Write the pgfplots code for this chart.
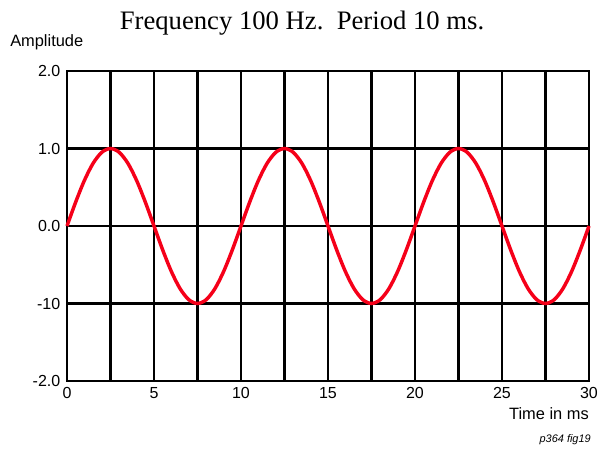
\documentclass[border=0pt]{standalone}
\usepackage{pgfplots}
\pgfplotsset{compat=1.18}
\usepackage{fontspec}
\setmainfont{Liberation Sans}
\newfontfamily\titlefont{Liberation Serif}
\definecolor{wave}{RGB}{245,0,25}
\begin{document}
\begin{tikzpicture}[x=0.75pt,y=0.75pt]
\useasboundingbox (0,0) rectangle (600,450);
\begin{axis}[
  at={(67*0.75pt,69*0.75pt)}, anchor=south west,
  scale only axis, width=522*0.75pt, height=310*0.75pt,
  xmin=0, xmax=30, ymin=-2, ymax=2,
  xtick={0,5,...,30}, minor xtick={2.5,7.5,...,27.5},
  ytick={-2,-1,0,1,2}, yticklabels={-2.0,-10,0.0,1.0,2.0},
  grid=both,
  major grid style={black, line width=1.8pt},
  minor grid style={black, line width=1.8pt},
  axis line style={black, line width=1.8pt},
  major tick length=0pt, minor tick length=0pt,
  tick label style={font=\fontsize{12}{14}\selectfont},
  /pgf/number format/assume math mode=true,
  xticklabel style={yshift=-1pt},
  yticklabel style={xshift=-1.5pt},
  clip=false,
]
\addplot[wave, line width=2.6pt, smooth] coordinates {
(0,0) (0.5,0.309) (1,0.588) (1.5,0.809) (2,0.951) (2.5,1) (3,0.951) (3.5,0.809) (4,0.588) (4.5,0.309)
(5,0) (5.5,-0.309) (6,-0.588) (6.5,-0.809) (7,-0.951) (7.5,-1) (8,-0.951) (8.5,-0.809) (9,-0.588) (9.5,-0.309)
(10,0) (10.5,0.309) (11,0.588) (11.5,0.809) (12,0.951) (12.5,1) (13,0.951) (13.5,0.809) (14,0.588) (14.5,0.309)
(15,0) (15.5,-0.309) (16,-0.588) (16.5,-0.809) (17,-0.951) (17.5,-1) (18,-0.951) (18.5,-0.809) (19,-0.588) (19.5,-0.309)
(20,0) (20.5,0.309) (21,0.588) (21.5,0.809) (22,0.951) (22.5,1) (23,0.951) (23.5,0.809) (24,0.588) (24.5,0.309)
(25,0) (25.5,-0.309) (26,-0.588) (26.5,-0.809) (27,-0.951) (27.5,-1) (28,-0.951) (28.5,-0.809) (29,-0.588) (29.5,-0.309)
(30,0)
};
\end{axis}
\node[anchor=base, font=\titlefont\fontsize{20}{22}\selectfont] at (302,450-30) {Frequency 100 Hz.\ \ Period 10 ms.};
\node[anchor=west, inner sep=0pt, font=\fontsize{12.3}{14}\selectfont] at (10,450-42) {Amplitude};
\node[anchor=east, inner sep=0pt, font=\fontsize{12.3}{14}\selectfont] at (589,450-414) {Time in ms};
\node[anchor=east, inner sep=0pt, font=\itshape\fontsize{8.2}{10}\selectfont] at (591,450-440) {p364 fig19};
\end{tikzpicture}
\end{document}
